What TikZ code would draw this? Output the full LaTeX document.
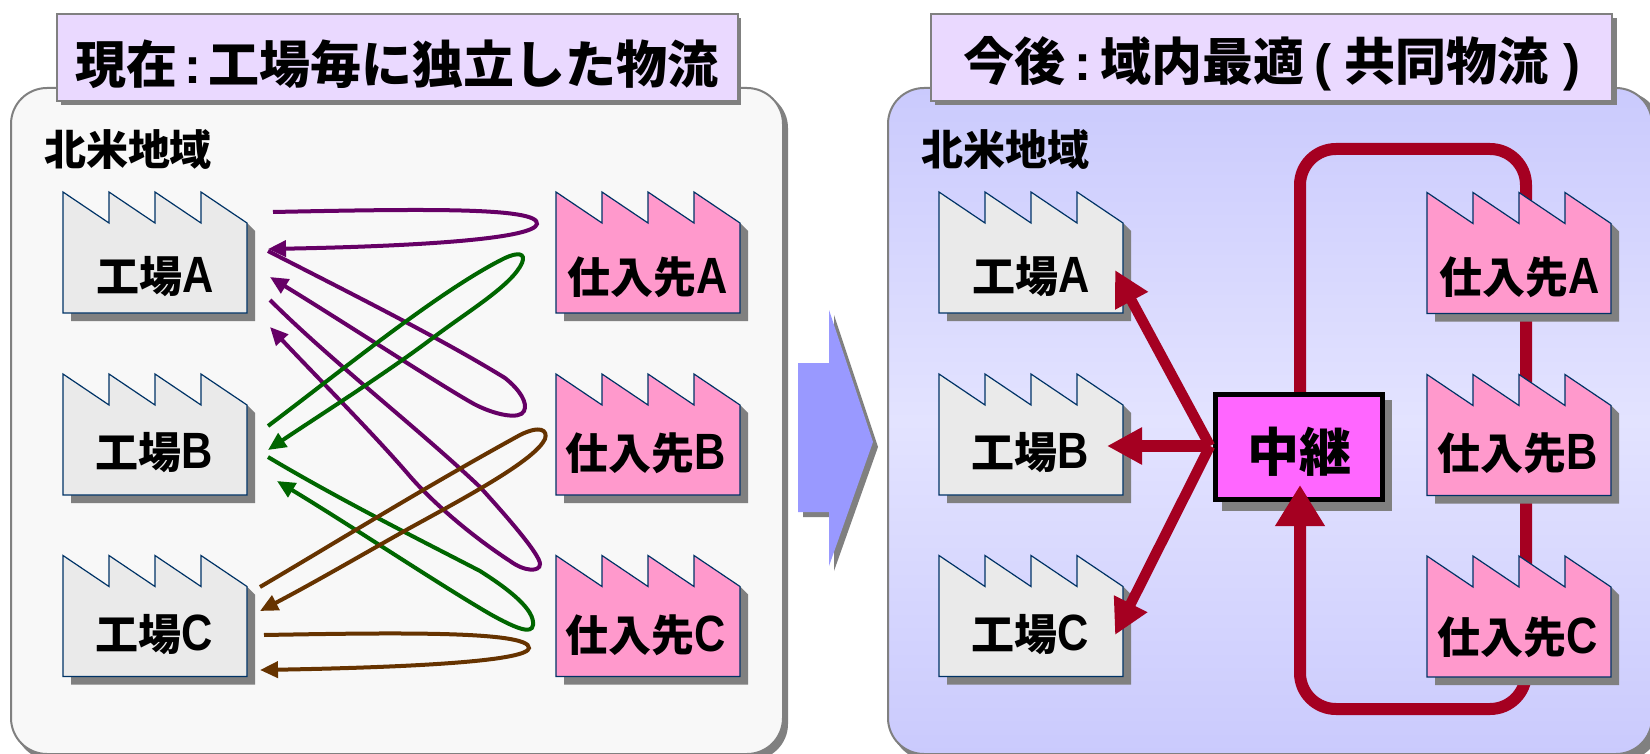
\documentclass[tikz,border=0pt]{standalone}
\usepackage{fontspec}
\usetikzlibrary{arrows.meta}
\newfontfamily\jpf{Noto Sans CJK JP Black}
\newfontfamily\latf[FakeStretch=0.85]{Liberation Sans}
\newfontfamily\punct{Liberation Sans}
\definecolor{panelL}{HTML}{F8F8F8}
\definecolor{panelC}{HTML}{CACAFD}
\definecolor{panelM}{HTML}{E3E3FF}
\definecolor{titleC}{HTML}{EAD9FF}
\definecolor{shadowC}{HTML}{808080}
\definecolor{facG}{HTML}{EAEAEA}
\definecolor{facP}{HTML}{FF99CC}
\definecolor{edgeC}{HTML}{003366}
\definecolor{redC}{HTML}{A50021}
\definecolor{purC}{HTML}{660066}
\definecolor{greC}{HTML}{006600}
\definecolor{broC}{HTML}{663300}
\definecolor{relayC}{HTML}{FF66FF}
\definecolor{arrowC}{HTML}{9999FF}
\newcommand{\jl}[2]{{\jpf #1}{\latf\bfseries\fontsize{51}{43}\selectfont #2}}
\tikzset{
  x=1pt,y=-1pt,
  lab/.style={inner sep=0pt,font=\fontsize{43}{43}\selectfont,text=black},
  reg/.style={inner sep=0pt,font=\fontsize{42}{42}\selectfont,text=black},
  ttl/.style={inner sep=0pt,font=\fontsize{51}{51}\selectfont,text=black},
  thinarrow/.style={line width=4pt,-{Triangle[length=18pt,width=16pt]}},
  redline/.style={line width=12pt,redC},
  redarrow/.style={line width=10.5pt,redC,-{Triangle[length=35pt,width=35pt]}},
  titlebox/.style={fill=titleC,draw=shadowC,line width=2pt},
  relaybox/.style={draw=black,line width=5pt,fill=relayC,minimum width=167pt,minimum height=105pt,inner sep=0pt,outer sep=0pt},
}
\newcommand{\factory}[8]{%
  \begin{scope}[shift={(#2,#3)}]
  \fill[shadowC] (8,31) -- (184,31) -- (192,39) -- (192,129) -- (8,129) -- cycle;
  \draw[fill=#4,draw=edgeC,line width=1.2pt,line join=miter]
     (0,0) -- (46,31) -- (46,0) -- (92,31) -- (92,0) -- (138,31) -- (138,0) -- (184,31) -- (184,121) -- (0,121) -- cycle;
  \end{scope}
  \node[lab] (#1) at (#7,#8) {\jl{#5}{#6}};
}
\begin{document}
\begin{tikzpicture}
\useasboundingbox (0,0) rectangle (1650,754);
\clip (0,0) rectangle (1650,754);
% panels
\fill[shadowC,rounded corners=36pt] (15,92) rectangle (788,760);
\draw[fill=panelL,draw=shadowC,line width=2pt,rounded corners=36pt] (11,88) rectangle (783,754);
\fill[shadowC,rounded corners=36pt] (892,92) rectangle (1660,760);
\shade[top color=panelC,bottom color=panelC,middle color=panelM,rounded corners=36pt] (888,88) rectangle (1652,754);
\draw[draw=shadowC,line width=2pt,rounded corners=36pt] (888,88) rectangle (1652,754);
% titles
\fill[shadowC] (61,18) rectangle (741,105.5);
\node[titlebox,inner sep=0pt,anchor=north west,text width=681pt,minimum height=87pt] (tbL) at (56,13) {};
\node[ttl] (ttlL) at (397,64) {\jpf 現在\hspace{7pt}{\punct\bfseries :}\hspace{7pt}工場毎に独立した物流};
\fill[shadowC] (935,18) rectangle (1617,105.5);
\node[titlebox,inner sep=0pt,anchor=north west,text width=681pt,minimum height=87pt] (tbR) at (930,13) {};
\node[ttl] (ttlR) at (1272,64) {\jpf 今後\hspace{9pt}{\punct\bfseries :}\hspace{9pt}域内最適\hspace{10pt}{\punct\bfseries (}\hspace{13pt}共同物流\hspace{16pt}{\punct\bfseries )}};
% region labels
\node[reg] (regL) at (128,150) {\jl{北米地域}{}};
\node[reg] (regR) at (1005,150) {\jl{北米地域}{}};
% transition arrow
\fill[shadowC] (803,368) -- (834,368) -- (834,315) -- (878,447) -- (834,571) -- (834,517) -- (803,517) -- cycle;
\fill[arrowC] (798,363) -- (829,363) -- (829,310) -- (873,442) -- (829,566) -- (829,512) -- (798,512) -- cycle;
% relay position and loop (behind suppliers)
\node[relaybox] (relay) at (1298.5,447) {};
\coordinate (loopTL) at (1300,149);
\coordinate (loopTR) at (1526,149);
\coordinate (loopBR) at (1526,709);
\coordinate (loopBL) at (1300,709);
\draw[redline,rounded corners=36pt] (relay.north -| loopTL) -- (loopTL) -- (loopTR) -- (loopBR) -- (loopBL) -- (relay.south -| loopBL);
% factories
\factory{fLA}{63}{192}{facG}{工場}{A}{155}{277}
\factory{fLB}{63}{374}{facG}{工場}{B}{154}{453}
\factory{fLC}{63}{555.5}{facG}{工場}{C}{154}{635}
\factory{sLA}{556}{192}{facP}{仕入先}{A}{648}{277}
\factory{sLB}{556}{374}{facP}{仕入先}{B}{646}{453}
\factory{sLC}{556}{555.5}{facP}{仕入先}{C}{646}{635}
\factory{fRA}{939}{192}{facG}{工場}{A}{1031}{277}
\factory{fRB}{939}{374}{facG}{工場}{B}{1030}{453}
\factory{fRC}{939}{555.5}{facG}{工場}{C}{1030}{635}
\factory{sRA}{1427}{192.5}{facP}{仕入先}{A}{1520}{277}
\factory{sRB}{1427}{374.5}{facP}{仕入先}{B}{1518}{453}
\factory{sRC}{1427}{556}{facP}{仕入先}{C}{1518}{637}
% relay box on top
\fill[shadowC] (1222,400) rectangle (1392,511);
\node[relaybox] (relayTop) at (1298.5,447) {};
\node[inner sep=0pt,font=\fontsize{52}{52}\selectfont] (relayText) at (1299,452) {\jpf 中継};
% red arrows
\coordinate (tipA) at (1115,270);
\coordinate (tipB) at (1107,446);
\coordinate (tipC) at (1115,635);
\coordinate (hub) at (1210,446);
\coordinate (tipR) at (1300,485);
\coordinate (tailR) at (1300,530);
\draw[redarrow] (hub) -- (tipA);
\draw[redarrow,line width=11.5pt] (hub) -- (tipB);
\draw[redarrow] (hub) -- (tipC);
\draw[line width=12pt,redC,-{Triangle[length=41pt,width=47pt]}] (tailR) -- (tipR);
% thin connectors
\coordinate (p1s) at (273,212); \coordinate (p1e) at (268,249);
\coordinate (p2s) at (268,251); \coordinate (p2e) at (270,277);
\coordinate (p3s) at (270,300); \coordinate (p3e) at (270,327);
\coordinate (g1s) at (268,426); \coordinate (g1e) at (268,450);
\coordinate (g2s) at (268,457); \coordinate (g2e) at (277,481);
\coordinate (b1s) at (260,587); \coordinate (b1e) at (260,611);
\coordinate (b2s) at (264,635); \coordinate (b2e) at (260,670);
\draw[thinarrow,purC] (p1s) .. controls (420,209) and (540,207) .. (537,224) .. controls (534,238) and (430,246) .. (p1e);
\draw[thinarrow,purC] (p2s) .. controls (350,293) and (440,338) .. (505,378) .. controls (520,390) and (528,403) .. (524,411) .. controls (520,420) and (495,415) .. (474,404) .. controls (440,385) and (350,326) .. (p2e);
\draw[thinarrow,purC] (p3s) .. controls (330,360) and (420,430) .. (480,487) .. controls (510,520) and (540,555) .. (540,564) .. controls (540,572) and (525,572) .. (510,561) .. controls (470,535) and (430,500) .. (408,474) .. controls (370,430) and (310,370) .. (p3e);
\draw[thinarrow,greC] (g1s) .. controls (340,372) and (440,290) .. (505,258) .. controls (518,252) and (526,253) .. (522,263) .. controls (512,285) and (470,310) .. (434,337) .. controls (385,374) and (320,415) .. (g1e);
\draw[thinarrow,greC] (g2s) .. controls (340,500) and (430,545) .. (480,571) .. controls (510,590) and (535,610) .. (533,625) .. controls (532,635) and (515,628) .. (490,614) .. controls (440,585) and (350,525) .. (g2e);
\draw[thinarrow,broC] (b1s) .. controls (340,540) and (420,490) .. (520,435) .. controls (540,425) and (548,430) .. (545,439) .. controls (535,460) and (470,495) .. (408,529) .. controls (360,556) and (310,585) .. (b1e);
\draw[thinarrow,broC] (b2s) .. controls (380,633) and (530,630) .. (529,648) .. controls (528,660) and (430,667) .. (b2e);
\end{tikzpicture}
\end{document}
